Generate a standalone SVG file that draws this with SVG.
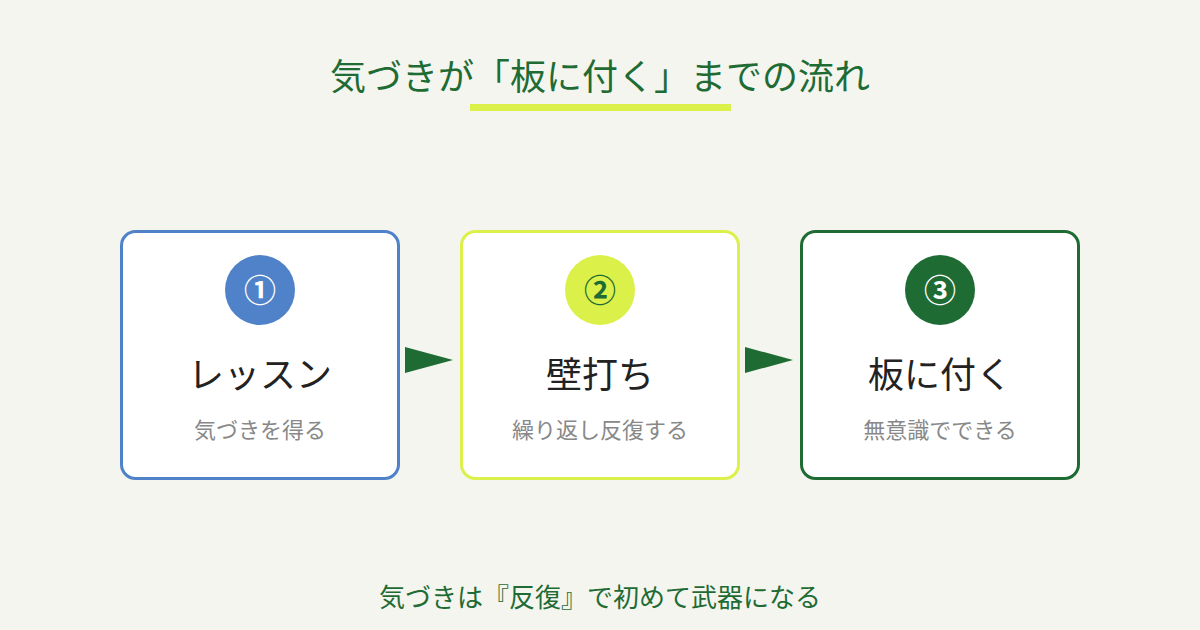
<svg xmlns="http://www.w3.org/2000/svg" width="1200" height="630" viewBox="0 0 1200 630">
<style>
text{font-family:"Noto Sans CJK JP","Noto Sans",sans-serif;text-anchor:middle}
.title{font-size:36px;fill:#1e6b34;font-weight:400}
.foot{font-size:26px;fill:#1e6b34;font-weight:400}
.box{fill:#ffffff;stroke-width:3}
.main{font-size:36px;fill:#222222}
.sub{font-size:22px;fill:#888888}
.num{font-size:32px;font-weight:700}
.arrow{fill:#1e6b34}
</style>
<rect width="1200" height="630" fill="#f4f5ef"/>
<g id="title">
<text class="title" x="600" y="90">気づきが「板に付く」までの流れ</text>
<rect x="470" y="104" width="261" height="7" fill="#dcf04a"/>
</g>
<g id="node1">
<rect class="box" x="121.5" y="231.5" width="277" height="247" rx="14" stroke="#4f82c8"/>
<circle cx="260" cy="290" r="35" fill="#4f82c8"/>
<text class="num" x="260" y="302" fill="#ffffff">①</text>
<text class="main" x="260" y="388">レッスン</text>
<text class="sub" x="260" y="438">気づきを得る</text>
</g>
<g id="node2">
<rect class="box" x="461.5" y="231.5" width="277" height="247" rx="14" stroke="#dcf04a"/>
<circle cx="600" cy="290" r="35" fill="#dcf04a"/>
<text class="num" x="600" y="302" fill="#1e6b34">②</text>
<text class="main" x="600" y="388">壁打ち</text>
<text class="sub" x="600" y="438">繰り返し反復する</text>
</g>
<g id="node3">
<rect class="box" x="801.5" y="231.5" width="277" height="247" rx="14" stroke="#1e6b34"/>
<circle cx="940" cy="290" r="35" fill="#1e6b34"/>
<text class="num" x="940" y="302" fill="#ffffff">③</text>
<text class="main" x="940" y="388">板に付く</text>
<text class="sub" x="940" y="438">無意識でできる</text>
</g>
<g id="connectors">
<polygon class="arrow" points="405,347 453,360 405,373"/>
<polygon class="arrow" points="745,347 793,360 745,373"/>
</g>
<g id="footer">
<text class="foot" x="600" y="607">気づきは『反復』で初めて武器になる</text>
</g>
</svg>
